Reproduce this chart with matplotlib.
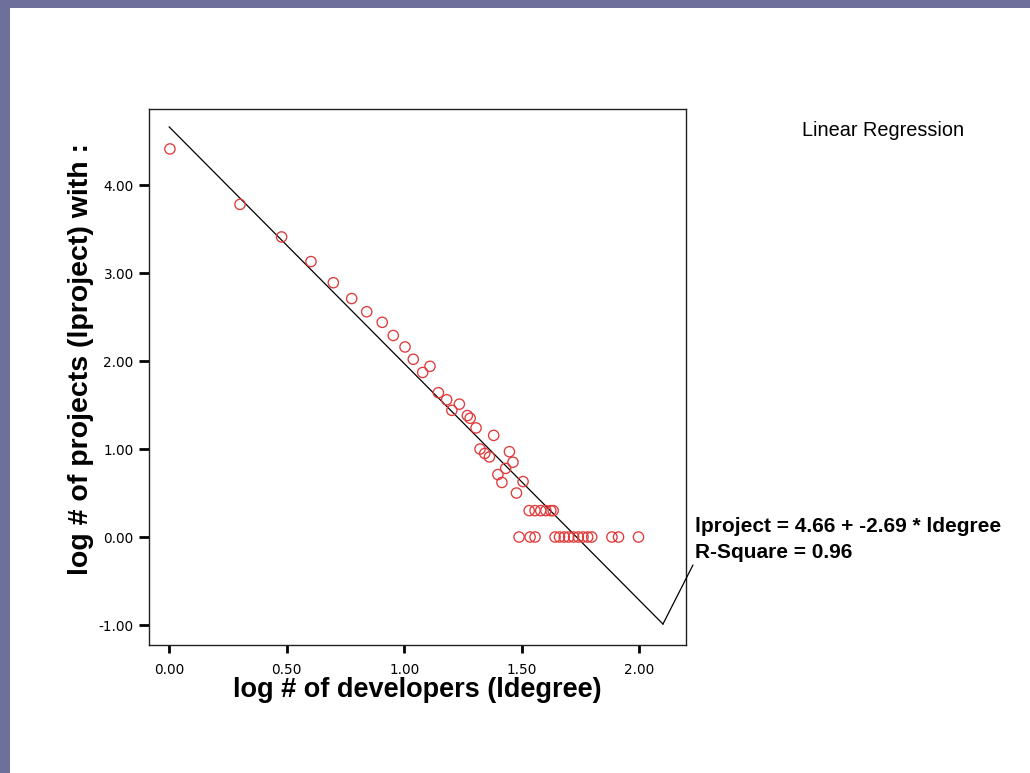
import matplotlib
matplotlib.use("Agg")
import matplotlib.pyplot as plt
from matplotlib.patches import Rectangle

# ---------------- data ----------------
ldegree = [0.003, 0.301, 0.478, 0.603, 0.698, 0.776, 0.840, 0.906, 0.953, 1.003,
           1.038, 1.078, 1.109, 1.145, 1.180, 1.202, 1.234, 1.268, 1.280, 1.305,
           1.322, 1.342, 1.362, 1.380, 1.398, 1.415, 1.431, 1.447, 1.462, 1.477, 1.505,
           1.531, 1.556, 1.580, 1.602, 1.623, 1.633,
           1.488, 1.535, 1.556, 1.641, 1.660, 1.680, 1.699, 1.720, 1.740, 1.760,
           1.780, 1.797, 1.883, 1.911, 1.996]
lproject = [4.41, 3.78, 3.41, 3.13, 2.89, 2.71, 2.56, 2.44, 2.29, 2.16,
            2.02, 1.87, 1.94, 1.64, 1.56, 1.44, 1.51, 1.38, 1.35, 1.24,
            1.00, 0.95, 0.91, 1.155, 0.71, 0.62, 0.78, 0.97, 0.85, 0.50, 0.63,
            0.30, 0.30, 0.30, 0.30, 0.30, 0.30,
            0.0, 0.0, 0.0, 0.0, 0.0, 0.0, 0.0, 0.0, 0.0, 0.0,
            0.0, 0.0, 0.0, 0.0, 0.0]

intercept = 4.66
slope = -2.69
r_square = 0.96
fit_x_range = [0.0, 2.10]

x_ticks = [0.0, 0.5, 1.0, 1.5, 2.0]
x_tick_labels = ["0.00", "0.50", "1.00", "1.50", "2.00"]
y_ticks = [-1.0, 0.0, 1.0, 2.0, 3.0, 4.0]
y_tick_labels = ["-1.00", "0.00", "1.00", "2.00", "3.00", "4.00"]

x_label = "log # of developers (ldegree)"
y_label = "log # of projects (lproject) with :"
legend_title = "Linear Regression"

# ---------------- figure ----------------
W, H = 1030, 773
fig = plt.figure(figsize=(W / 100, H / 100), dpi=100)
fig.patch.set_facecolor("white")

border = "#6e6f9a"
fig.patches.append(Rectangle((0, 0), 10 / W, 1, transform=fig.transFigure,
                             facecolor=border, edgecolor="none", zorder=0))
fig.patches.append(Rectangle((0, 1 - 8 / H), 1, 8 / H, transform=fig.transFigure,
                             facecolor=border, edgecolor="none", zorder=0))

left_px, right_px, top_px, bottom_px = 149, 686, 109, 645
ax = fig.add_axes([left_px / W, 1 - bottom_px / H,
                   (right_px - left_px) / W, (bottom_px - top_px) / H])
ax.set_facecolor("white")

ax.scatter(ldegree, lproject, s=7.4 ** 2, facecolors="none",
           edgecolors="#e03a3a", linewidths=0.95, zorder=3)

fx = fit_x_range
fy = [intercept + slope * v for v in fx]
ax.plot(fx, fy, color="black", lw=0.9, zorder=2)

ax.set_xlim(-0.086, 2.198)
ax.set_ylim(-1.227, 4.864)

ax.set_xticks(x_ticks)
ax.set_xticklabels(x_tick_labels)
ax.set_yticks(y_ticks)
ax.set_yticklabels(y_tick_labels)
for lab in ax.get_xticklabels() + ax.get_yticklabels():
    lab.set_fontfamily("DejaVu Sans")
    lab.set_fontsize(9.8)
ax.tick_params(axis="x", direction="out", length=6, width=2, pad=7, colors="black")
ax.tick_params(axis="y", direction="out", length=7, width=2, pad=4, colors="black")

for sp in ax.spines.values():
    sp.set_linewidth(1.0)
    sp.set_color("#222222")

# leader line from fit-line end to the equation text
ax.annotate("", xy=(fx[1], fy[1]), xytext=(21.6, 42.5), textcoords="offset points",
            arrowprops=dict(arrowstyle="-", color="black", lw=0.9,
                            shrinkA=0, shrinkB=0), annotation_clip=False)

fig.text(695 / W, 1 - 527 / H,
         f"lproject = {intercept:.2f} + {slope:.2f} * ldegree",
         fontfamily="Liberation Sans", fontweight="bold", fontsize=15,
         ha="left", va="center")
fig.text(695 / W, 1 - 552 / H, f"R-Square = {r_square:.2f}",
         fontfamily="Liberation Sans", fontweight="bold", fontsize=15,
         ha="left", va="center")

fig.text(802 / W, 1 - 130 / H, legend_title, fontfamily="Liberation Sans",
         fontsize=14.3, ha="left", va="center")

fig.text(417 / W, 1 - 690 / H, x_label, fontfamily="Liberation Sans",
         fontweight="bold", fontsize=19.5, ha="center", va="center")
fig.text(81 / W, 1 - 359 / H, y_label, fontfamily="Liberation Sans",
         fontweight="bold", fontsize=20.5, ha="center", va="center", rotation=90)

fig.savefig("out.png", dpi=100, facecolor=fig.get_facecolor())
